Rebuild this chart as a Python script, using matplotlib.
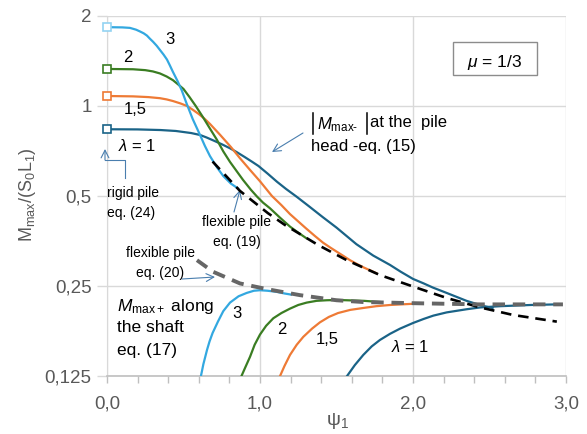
import matplotlib
matplotlib.use("Agg")
import matplotlib.pyplot as plt
from matplotlib.ticker import FixedLocator, NullFormatter, NullLocator
from matplotlib.patches import Rectangle
from matplotlib.lines import Line2D

plt.rcParams['font.family'] = ['Liberation Sans', 'DejaVu Sans']
plt.rcParams['mathtext.fontset'] = 'custom'
plt.rcParams['mathtext.rm'] = 'Liberation Sans'
plt.rcParams['mathtext.it'] = 'Liberation Sans:italic'
plt.rcParams['mathtext.bf'] = 'Liberation Sans:bold'

# ---------------- data ----------------
# |M_max-| at the pile head (eq. 15), lambda = 3, 2, 1.5, 1
head3_x = [0, 0.1, 0.15, 0.19, 0.216, 0.24, 0.261, 0.28, 0.301, 0.325, 0.346, 0.37, 0.392, 0.41, 0.431,
           0.46, 0.488, 0.52, 0.56, 0.608, 0.64, 0.673, 0.72, 0.76, 0.81, 0.856]
head3_y = [1.835, 1.832, 1.825, 1.80, 1.775, 1.75, 1.72, 1.68, 1.64, 1.59, 1.54, 1.485, 1.43, 1.37, 1.30,
           1.215, 1.13, 1.02, 0.905, 0.80, 0.735, 0.68, 0.622, 0.583, 0.55, 0.53]
head2_x = [0, 0.17, 0.25, 0.3, 0.346, 0.39, 0.431, 0.47, 0.50, 0.54, 0.58, 0.627, 0.67, 0.719, 0.76,
           0.804, 0.85, 0.889, 0.94, 0.98, 1.02, 1.065, 1.131, 1.196, 1.25, 1.30]
head2_y = [1.33, 1.327, 1.318, 1.305, 1.285, 1.255, 1.22, 1.175, 1.14, 1.07, 1.0, 0.918, 0.845, 0.77, 0.705,
           0.65, 0.603, 0.566, 0.525, 0.498, 0.475, 0.455, 0.423, 0.395, 0.377, 0.362]
head15_x = [0, 0.17, 0.27, 0.346, 0.39, 0.431, 0.48, 0.523, 0.56, 0.6, 0.64, 0.673, 0.74, 0.81, 0.87,
            0.935, 1.0, 1.078, 1.14, 1.196, 1.25, 1.30, 1.36, 1.412, 1.46, 1.50, 1.55, 1.588, 1.64,
            1.68, 1.72, 1.76]
head15_y = [1.08, 1.077, 1.071, 1.062, 1.052, 1.039, 1.02, 1.0, 0.972, 0.94, 0.904, 0.871, 0.80, 0.729, 0.668,
            0.611, 0.56, 0.5, 0.466, 0.435, 0.411, 0.39, 0.367, 0.349, 0.336, 0.326, 0.314, 0.305, 0.295,
            0.288, 0.282, 0.276]
head1_x = [0, 0.2, 0.35, 0.45, 0.55, 0.608, 0.65, 0.70, 0.75, 0.804, 0.85, 0.90, 0.95, 0.99, 1.05, 1.111,
           1.17, 1.24, 1.32, 1.41, 1.5, 1.63, 1.74, 1.85, 1.92, 2.0, 2.07, 2.13, 2.22, 2.35, 2.45, 2.52]
head1_y = [0.836, 0.835, 0.831, 0.825, 0.812, 0.80, 0.785, 0.765, 0.745, 0.722, 0.70, 0.675, 0.65, 0.63,
           0.594, 0.558, 0.528, 0.497, 0.462, 0.425, 0.392, 0.345, 0.316, 0.294, 0.279, 0.264, 0.255,
           0.247, 0.237, 0.223, 0.215, 0.211]

# M_max+ along the shaft (eq. 17)
shaft3_x = [0.614, 0.63, 0.654, 0.67, 0.69, 0.725, 0.76, 0.804, 0.86, 0.913, 0.96, 1.0, 1.05, 1.109, 1.16, 1.203]
shaft3_y = [0.125, 0.137, 0.153, 0.163, 0.174, 0.19, 0.206, 0.22, 0.231, 0.237, 0.241, 0.242, 0.241, 0.239, 0.236, 0.234]
shaft2_x = [0.879, 0.905, 0.935, 0.965, 1.0, 1.04, 1.087, 1.14, 1.196, 1.25, 1.305, 1.37, 1.436, 1.5,
            1.567, 1.68, 1.784]
shaft2_y = [0.125, 0.134, 0.145, 0.159, 0.172, 0.184, 0.195, 0.203, 0.210, 0.216, 0.220, 0.223, 0.224,
            0.2245, 0.224, 0.223, 0.221]
shaft15_x = [1.131, 1.16, 1.196, 1.24, 1.283, 1.34, 1.392, 1.45, 1.51, 1.59, 1.673, 1.76, 1.85, 2.0]
shaft15_y = [0.125, 0.135, 0.147, 0.159, 0.169, 0.180, 0.189, 0.197, 0.203, 0.208, 0.211, 0.214, 0.216, 0.218]
shaft1_x = [1.569, 1.62, 1.675, 1.73, 1.784, 1.85, 1.915, 2.0, 2.07, 2.133, 2.22, 2.35, 2.44, 2.57, 2.77, 2.94]
shaft1_y = [0.125, 0.136, 0.147, 0.157, 0.165, 0.173, 0.180, 0.188, 0.194, 0.199, 0.204, 0.209, 0.212,
            0.214, 0.216, 0.217]

# flexible pile asymptotes
eq19_x = [0.69, 0.869, 1.052, 1.163, 1.379, 1.567, 1.784, 2.0, 2.22, 2.438, 2.654, 2.94]
eq19_y = [0.652, 0.52, 0.438, 0.40, 0.343, 0.305, 0.272, 0.249, 0.228, 0.212, 0.200, 0.190]
eq20_x = [0.588, 0.693, 0.869, 1.046, 1.261, 1.5, 1.673, 2.0, 2.438, 2.98]
eq20_y = [0.305, 0.279, 0.255, 0.244, 0.233, 0.224, 0.221, 0.219, 0.217, 0.217]

x_ticks = [0, 1, 2, 3]
x_ticklabels = ['0,0', '1,0', '2,0', '3,0']
y_ticks = [0.125, 0.25, 0.5, 1, 2]
y_ticklabels = ['0,125', '0,25', '0,5', '1', '2']

C3 = '#33A8E0'
C2 = '#3A7D22'
C15 = '#EE7A35'
C1 = '#1A6387'
ARROW = '#4A7EAE'
GRID = '#D9D9D9'
TICKC = '#595959'

W, H = 587, 434
fig = plt.figure(figsize=(W / 100, H / 100), dpi=100)
ax = fig.add_axes([107 / W, 1 - 376 / H, (566 - 107) / W, (376 - 16) / H])

def P(x, y):
    return (x / W, 1 - y / H)

ax.set_yscale('log', base=2)
ax.set_xlim(0, 3)
ax.set_ylim(0.125, 2)

lw = 1.6
ax.plot(head1_x, head1_y, color=C1, lw=lw, zorder=3)
ax.plot(head15_x, head15_y, color=C15, lw=lw, zorder=3)
ax.plot(head2_x, head2_y, color=C2, lw=lw, zorder=3)
ax.plot(head3_x, head3_y, color=C3, lw=lw, zorder=3)
ax.plot(shaft1_x, shaft1_y, color=C1, lw=lw, zorder=3)
ax.plot(shaft15_x, shaft15_y, color=C15, lw=lw, zorder=3)
ax.plot(shaft2_x, shaft2_y, color=C2, lw=lw, zorder=3)
ax.plot(shaft3_x, shaft3_y, color=C3, lw=lw, zorder=3)

ax.plot(eq19_x, eq19_y, color='black', lw=1.9, dashes=(4, 2.6), zorder=4)
ax.plot(eq20_x, eq20_y, color='#666666', lw=2.8, dashes=(3.2, 2.0), zorder=4)

# rigid pile markers (eq. 24)
for xs, ys, ec in [(head3_x, head3_y, '#93D3F2'), (head2_x, head2_y, C2),
                   (head15_x, head15_y, C15), (head1_x, head1_y, C1)]:
    ax.plot(xs[0], ys[0], 's', ms=5.5, mfc='white', mec=ec, mew=1.2, zorder=5, clip_on=False)

# axes styling
ax.xaxis.set_major_locator(FixedLocator(x_ticks))
ax.set_xticklabels(x_ticklabels)
ax.xaxis.set_minor_locator(FixedLocator([i * 0.2 for i in range(16)]))
ax.xaxis.set_minor_formatter(NullFormatter())
ax.yaxis.set_major_locator(FixedLocator(y_ticks))
ax.set_yticklabels(y_ticklabels)
ax.yaxis.set_minor_locator(NullLocator())
ax.tick_params(axis='x', which='both', length=5, width=1, color='#BFBFBF',
               labelsize=13.5, labelcolor=TICKC, pad=9, direction='out')
ax.tick_params(axis='y', which='both', length=7, width=1, color=GRID,
               labelsize=13.5, labelcolor=TICKC, pad=4)
ax.grid(True, which='major', color=GRID, lw=1)
ax.set_axisbelow(True)
for s in ['top', 'right']:
    ax.spines[s].set_visible(False)
ax.spines['left'].set_color(GRID)
ax.spines['bottom'].set_color('#BFBFBF')
ax.spines['bottom'].set_linewidth(1.2)

fig.text(*P(28, 195), r'M$_{\mathregular{max}}$/(S$_{\mathregular{0}}$L$_{\mathregular{1}}$)',
         rotation=90, ha='center', va='center', fontsize=13, color=TICKC)
fig.text(*P(337, 421), r'ψ$_{\mathregular{1}}$', ha='center', va='center',
         fontsize=14, color=TICKC)

# curve labels
def T(x, y, s, size=12, ha='center', **kw):
    fig.text(*P(x, y), s, ha=ha, va='center', fontsize=size, color='black', **kw)

T(170, 40, '3')
T(128, 58, '2')
T(135, 109, '1,5')
T(137, 146, r'$\lambda$ = 1')
T(237, 313, '3')
T(282, 330, '2')
T(327, 340, '1,5')
T(410, 347, r'$\lambda$ = 1')

T(107, 193, 'rigid pile', size=10, ha='left')
T(107, 213, 'eq. (24)', size=10, ha='left')
T(237, 222, 'flexible pile', size=10)
T(237, 242, 'eq. (19)', size=10)
T(161, 253, 'flexible pile', size=10)
T(160, 273, 'eq. (20)', size=10)

T(117, 306, r'$M_{\mathregular{max+}}$ along', size=12.5, ha='left')
T(117, 328, 'the shaft', size=12.5, ha='left')
T(117, 351, 'eq. (17)', size=12.5, ha='left')

T(317, 125, '$M_{\\mathregular{max\u2010}}$', size=12, ha='left')
T(370, 123, 'at the  pile', size=12, ha='left')
T(311, 147, 'head -eq. (15)', size=12, ha='left')
for bx in (313, 366.5):
    fig.add_artist(Line2D([bx / W, bx / W], [1 - 113 / H, 1 - 134 / H],
                          transform=fig.transFigure, color='black', lw=1.1))

# mu box
fig.patches.append(Rectangle(P(453, 75), 84 / W, 33 / H, transform=fig.transFigure,
                             fill=False, edgecolor='#8C8C8C', lw=1))
T(495, 62, r'$\mu$ = 1/3', size=12.5)

# arrows
ap = dict(arrowstyle='->,head_length=0.55,head_width=0.28', color=ARROW, lw=0.8,
          shrinkA=0, shrinkB=0)
for tail, tip in [((303, 133), (272, 152)), ((234, 212), (240, 190)),
                  ((182, 279), (215, 277)), ((105, 160), (105, 149))]:
    ax.annotate('', xy=P(*tip), xycoords='figure fraction', xytext=P(*tail),
                textcoords='figure fraction', arrowprops=ap, annotation_clip=False)
fig.add_artist(Line2D([125 / W, 125 / W, 105 / W], [1 - 178 / H, 1 - 160 / H, 1 - 160 / H],
                      transform=fig.transFigure, color=ARROW, lw=0.8))

fig.savefig('out.png', dpi=100)
